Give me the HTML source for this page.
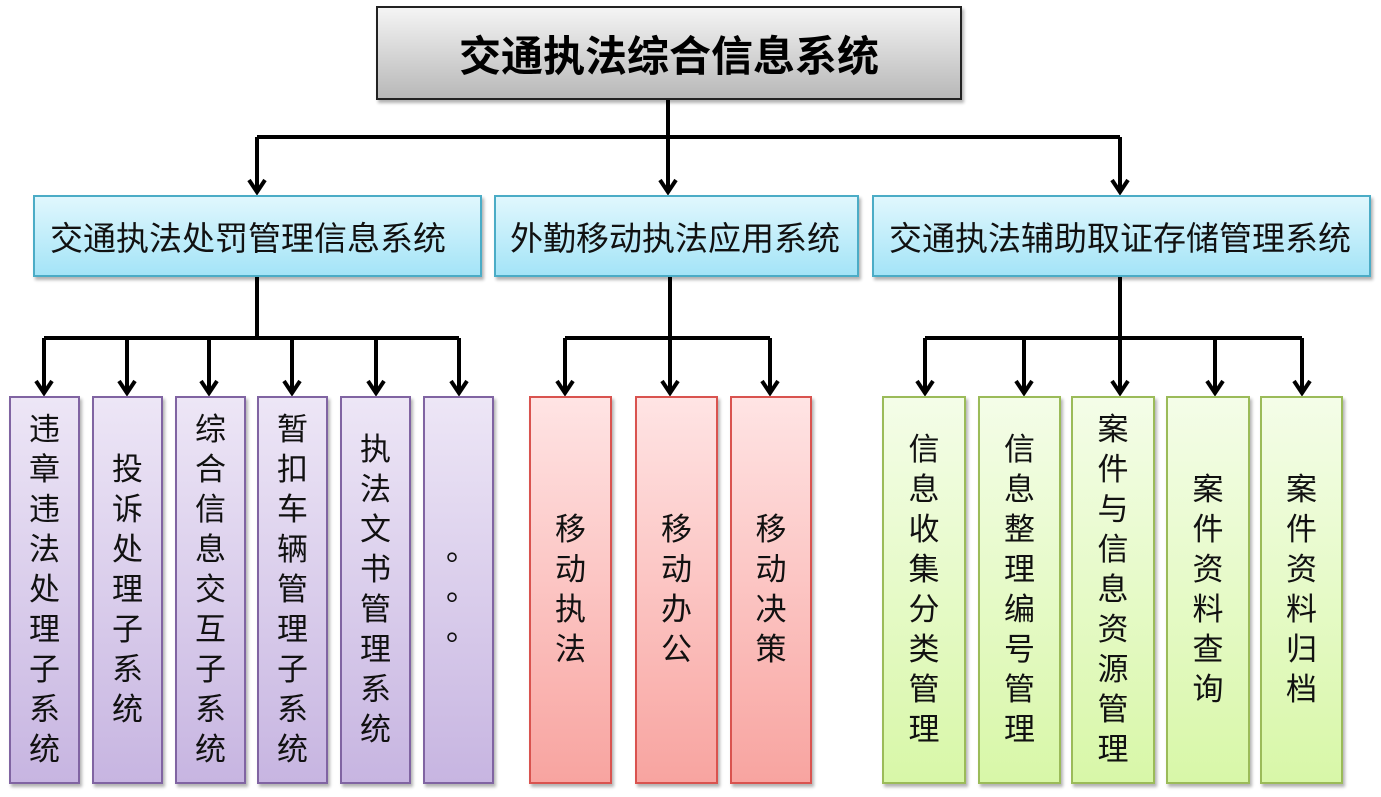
<!DOCTYPE html>
<html><head><meta charset="utf-8"><style>
body{margin:0;width:1381px;height:797px;background:#fff;position:relative;overflow:hidden;font-family:"Liberation Sans","Noto Sans CJK SC",sans-serif;}
.b{position:absolute;box-sizing:border-box;box-shadow:2px 3px 3px rgba(0,0,0,0.3);}
.top{left:376px;top:6px;width:586px;height:94px;border:2px solid #222;background:linear-gradient(#f4f4f4,#b8b8b8);font-weight:bold;font-size:42px;display:flex;align-items:center;justify-content:center;color:#000;}
.l2{top:195px;height:82px;border:2px solid #4bacc6;background:linear-gradient(#e0f7fd,#a4e4f7);font-size:33px;display:flex;align-items:center;color:#111;}
.v{top:396px;height:388px;border:2px solid;display:flex;align-items:center;justify-content:center;font-size:31px;color:#111;}
.v div{width:34px;line-height:40px;text-align:center;word-break:break-all;}
.p{border-color:#8064a2;background:linear-gradient(#ede6f6,#c7b5e1);}
.r{border-color:#d9534f;background:linear-gradient(#ffe4e4,#f8a4a0);}
.g{border-color:#9bbb59;background:linear-gradient(#f4fde8,#d8f7a8);}
svg{position:absolute;left:0;top:0}
</style></head><body>
<svg width="1381" height="797" stroke="#000" stroke-width="4" fill="none">
<path d="M668 100V137M257 137H1120M257 137V192M668 137V192M1120 137V192"/>
<path d="M257 277V338M44 338H459M565 338H770M670 277V338M1120 277V338M925 338H1302"/>
<path d="M44 338V393M127 338V393M209 338V393M292 338V393M376 338V393M459 338V393M565 338V393M670 338V393M770 338V393M925 338V393M1024 338V393M1120 338V393M1215 338V393M1302 338V393"/>
<g stroke-width="4" stroke-linejoin="miter">
<path d="M249 180L257 192L265 180M660 180L668 192L676 180M1112 180L1120 192L1128 180"/>
<path d="M36 381L44 393L52 381M119 381L127 393L135 381M201 381L209 393L217 381M284 381L292 393L300 381M368 381L376 393L384 381M451 381L459 393L467 381M557 381L565 393L573 381M662 381L670 393L678 381M762 381L770 393L778 381M917 381L925 393L933 381M1016 381L1024 393L1032 381M1112 381L1120 393L1128 381M1207 381L1215 393L1223 381M1294 381L1302 393L1310 381"/>
</g>
</svg>
<div class="b top">交通执法综合信息系统</div>
<div class="b l2" style="left:33px;width:449px;padding-left:15px">交通执法处罚管理信息系统</div>
<div class="b l2" style="left:494px;width:365px;padding-left:14px">外勤移动执法应用系统</div>
<div class="b l2" style="left:872px;width:499px;padding-left:15px">交通执法辅助取证存储管理系统</div>
<div class="b v p" style="left:9px;width:71px"><div>违章违法处理子系统</div></div>
<div class="b v p" style="left:92px;width:71px"><div>投诉处理子系统</div></div>
<div class="b v p" style="left:175px;width:71px"><div>综合信息交互子系统</div></div>
<div class="b v p" style="left:257px;width:71px"><div>暂扣车辆管理子系统</div></div>
<div class="b v p" style="left:340px;width:71px"><div>执法文书管理系统</div></div>
<div class="b v p" style="left:423px;width:71px"><div style="padding-left:6px">。<br>。<br>。</div></div>
<div class="b v r" style="left:529px;width:83px"><div>移动执法</div></div>
<div class="b v r" style="left:635px;width:83px"><div>移动办公</div></div>
<div class="b v r" style="left:730px;width:82px"><div>移动决策</div></div>
<div class="b v g" style="left:882px;width:84px"><div>信息收集分类管理</div></div>
<div class="b v g" style="left:978px;width:83px"><div>信息整理编号管理</div></div>
<div class="b v g" style="left:1071px;width:84px"><div>案件与信息资源管理</div></div>
<div class="b v g" style="left:1166px;width:84px"><div>案件资料查询</div></div>
<div class="b v g" style="left:1260px;width:83px"><div>案件资料归档</div></div>
</body></html>
